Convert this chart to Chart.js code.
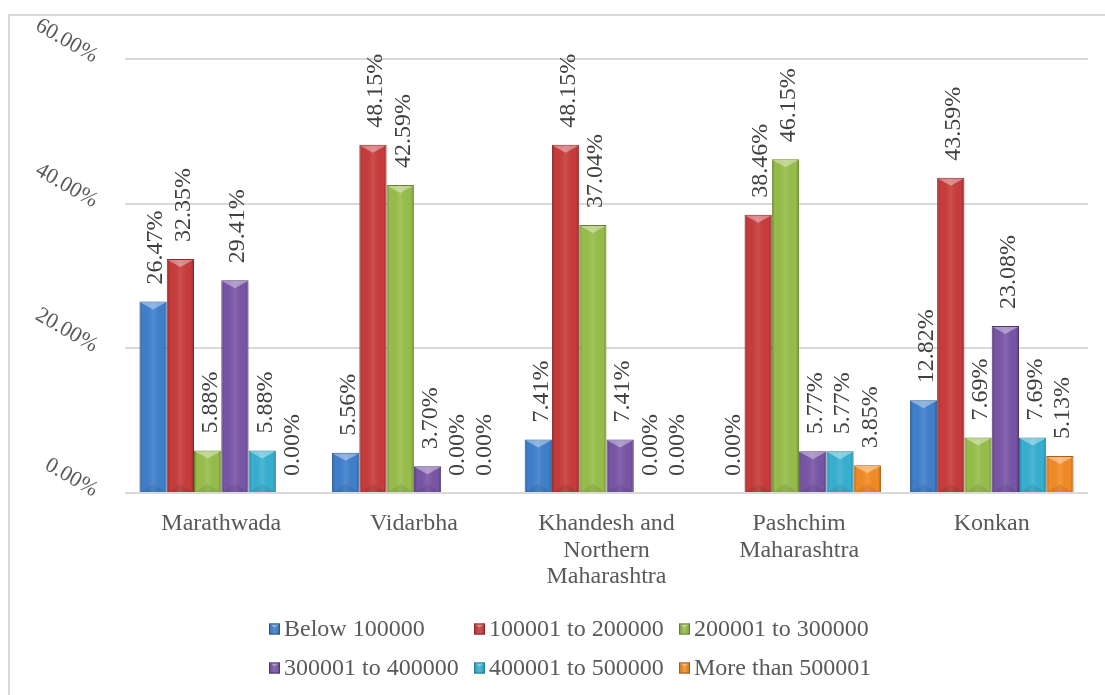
<!DOCTYPE html>
<html>
<head>
<meta charset="utf-8">
<script src="https://cdn.jsdelivr.net/npm/chart.js@4/dist/chart.umd.min.js"></script>
<style>
html,body{margin:0;padding:0;background:#fff;overflow:hidden;}
#wrap{width:1105px;height:695px;position:relative;}
canvas{display:block;}
</style>
</head>
<body>
<div id="wrap"><canvas id="c" width="1105" height="695"></canvas></div>
<script>
// ---- data ----
const categories = [['Marathwada'], ['Vidarbha'], ['Khandesh and', 'Northern', 'Maharashtra'], ['Pashchim', 'Maharashtra'], ['Konkan']];
const seriesNames = ['Below 100000', '100001 to 200000', '200001 to 300000', '300001 to 400000', '400001 to 500000', 'More than 500001'];
const below100000 = [26.47, 5.56, 7.41, 0.00, 12.82];
const from100001to200000 = [32.35, 48.15, 48.15, 38.46, 43.59];
const from200001to300000 = [5.88, 42.59, 37.04, 46.15, 7.69];
const from300001to400000 = [29.41, 3.70, 7.41, 5.77, 23.08];
const from400001to500000 = [5.88, 0.00, 0.00, 5.77, 7.69];
const moreThan500001 = [0.00, 0.00, 0.00, 3.85, 5.13];
const yTicks = [0, 20, 40, 60];

// ---- styles ----
const seriesColors = ['#3f7fcd', '#c83b3b', '#97be4a', '#7855a7', '#36b0d1', '#f38b24'];
const seriesBorders = ['#2b568c', '#862829', '#66822f', '#4e3770', '#237c95', '#a85d17'];
const FONT = "'Liberation Serif', 'Times New Roman', serif";
const TEXT = '#595959';

const seriesValues = [below100000, from100001to200000, from200001to300000, from300001to400000, from400001to500000, moreThan500001];

const datasets = seriesValues.map((vals, i) => ({
  label: seriesNames[i],
  data: vals,
  backgroundColor: seriesColors[i],
  borderColor: seriesBorders[i],
  borderWidth: 1,
  barPercentage: 1.0,
  categoryPercentage: 0.85
}));

const framePlugin = {
  id: 'frame',
  beforeDraw(chart) {
    const ctx = chart.ctx;
    ctx.save();
    ctx.fillStyle = '#fff';
    ctx.fillRect(0, 0, chart.width, chart.height);
    ctx.strokeStyle = '#d9d9d9';
    ctx.lineWidth = 2;
    ctx.beginPath();
    ctx.moveTo(9, chart.height);
    ctx.lineTo(9, 15);
    ctx.lineTo(chart.width, 15);
    ctx.stroke();
    ctx.restore();
  }
};

const yLabelPlugin = {
  id: 'yLabels',
  afterDraw(chart) {
    const ctx = chart.ctx;
    const ys = chart.scales.y;
    ctx.save();
    ctx.font = '22px ' + FONT;
    ctx.fillStyle = TEXT;
    ctx.textAlign = 'right';
    ctx.textBaseline = 'alphabetic';
    yTicks.forEach(v => {
      const py = ys.getPixelForValue(v);
      ctx.save();
      ctx.translate(93, py + 4);
      ctx.rotate(30 * Math.PI / 180);
      ctx.fillText(v.toFixed(2) + '%', 0, 0);
      ctx.restore();
    });
    ctx.restore();
  }
};

const barStylePlugin = {
  id: 'barStyle',
  afterDatasetsDraw(chart) {
    const ctx = chart.ctx;
    ctx.save();
    chart.data.datasets.forEach((ds, di) => {
      const meta = chart.getDatasetMeta(di);
      meta.data.forEach((el) => {
        const w = el.width;
        const left = el.x - w / 2, right = el.x + w / 2;
        const top = Math.min(el.y, el.base), bottom = Math.max(el.y, el.base);
        const h = bottom - top;
        if (h < 1) return;
        const g = ctx.createLinearGradient(left, 0, right, 0);
        g.addColorStop(0, 'rgba(0,0,0,0.25)');
        g.addColorStop(0.12, 'rgba(0,0,0,0.0)');
        g.addColorStop(0.5, 'rgba(255,255,255,0.10)');
        g.addColorStop(0.88, 'rgba(0,0,0,0.0)');
        g.addColorStop(1, 'rgba(0,0,0,0.28)');
        ctx.fillStyle = g;
        ctx.fillRect(left + 1, top + 1, w - 2, h - 1);
        const bh = Math.min(8, h / 2);
        ctx.fillStyle = 'rgba(255,255,255,0.38)';
        ctx.beginPath();
        ctx.moveTo(left + 1, top + 1);
        ctx.lineTo(right - 1, top + 1);
        ctx.lineTo(el.x, top + bh);
        ctx.closePath();
        ctx.fill();
        ctx.fillStyle = 'rgba(0,0,0,0.08)';
        ctx.beginPath();
        ctx.moveTo(left + 1, bottom);
        ctx.lineTo(right - 1, bottom);
        ctx.lineTo(el.x, bottom - bh);
        ctx.closePath();
        ctx.fill();
      });
    });
    ctx.restore();
  }
};

const dataLabelPlugin = {
  id: 'dataLabels',
  afterDatasetsDraw(chart) {
    const ctx = chart.ctx;
    ctx.save();
    ctx.font = '24px ' + FONT;
    ctx.fillStyle = '#404040';
    ctx.textAlign = 'left';
    ctx.textBaseline = 'middle';
    chart.data.datasets.forEach((ds, di) => {
      const meta = chart.getDatasetMeta(di);
      meta.data.forEach((el, idx) => {
        const v = ds.data[idx];
        ctx.save();
        ctx.translate(el.x + 3, el.y - 17);
        ctx.rotate(-Math.PI / 2);
        ctx.fillText(v.toFixed(2) + '%', 0, 0);
        ctx.restore();
      });
    });
    ctx.restore();
  }
};

const legendPlugin = {
  id: 'customLegend',
  afterDraw(chart) {
    const ctx = chart.ctx;
    const colX = [269, 474, 679];
    const rowY = [629, 668];
    ctx.save();
    ctx.font = '24px ' + FONT;
    ctx.textAlign = 'left';
    ctx.textBaseline = 'middle';
    chart.data.datasets.forEach((ds, i) => {
      const x = colX[i % 3], y = rowY[Math.floor(i / 3)];
      const s = 11;
      const bx = x, by = y - s / 2;
      ctx.fillStyle = seriesColors[i];
      ctx.fillRect(bx, by, s, s);
      const g = ctx.createLinearGradient(bx, 0, bx + s, 0);
      g.addColorStop(0, 'rgba(0,0,0,0.2)');
      g.addColorStop(0.5, 'rgba(255,255,255,0.1)');
      g.addColorStop(1, 'rgba(0,0,0,0.25)');
      ctx.fillStyle = g;
      ctx.fillRect(bx, by, s, s);
      ctx.fillStyle = 'rgba(255,255,255,0.35)';
      ctx.beginPath();
      ctx.moveTo(bx, by); ctx.lineTo(bx + s, by); ctx.lineTo(bx + s / 2, by + 4); ctx.closePath();
      ctx.fill();
      ctx.strokeStyle = seriesBorders[i];
      ctx.lineWidth = 1;
      ctx.strokeRect(bx + 0.5, by + 0.5, s - 1, s - 1);
      ctx.fillStyle = TEXT;
      ctx.fillText(ds.label, x + s + 4, y + 1);
    });
    ctx.restore();
  }
};

new Chart(document.getElementById('c'), {
  type: 'bar',
  data: { labels: categories, datasets: datasets },
  options: {
    responsive: false,
    animation: false,
    devicePixelRatio: 1,
    layout: { padding: { top: 59, right: 17, left: 0, bottom: 0 } },
    plugins: {
      legend: { display: false },
      tooltip: { enabled: false }
    },
    scales: {
      x: {
        grid: { display: false },
        border: { display: false },
        ticks: {
          color: TEXT,
          font: { family: FONT, size: 24, lineHeight: 1.1 },
          padding: 10,
          maxRotation: 0,
          autoSkip: false
        },
        afterFit(scale) { scale.height = 202; }
      },
      y: {
        min: 0,
        max: 60,
        ticks: { display: false, stepSize: 20 },
        grid: { color: '#d9d9d9', lineWidth: 2, drawTicks: false },
        border: { display: false },
        afterFit(scale) { scale.width = 125; }
      }
    }
  },
  plugins: [framePlugin, barStylePlugin, dataLabelPlugin, yLabelPlugin, legendPlugin]
});
</script>
</body>
</html>
